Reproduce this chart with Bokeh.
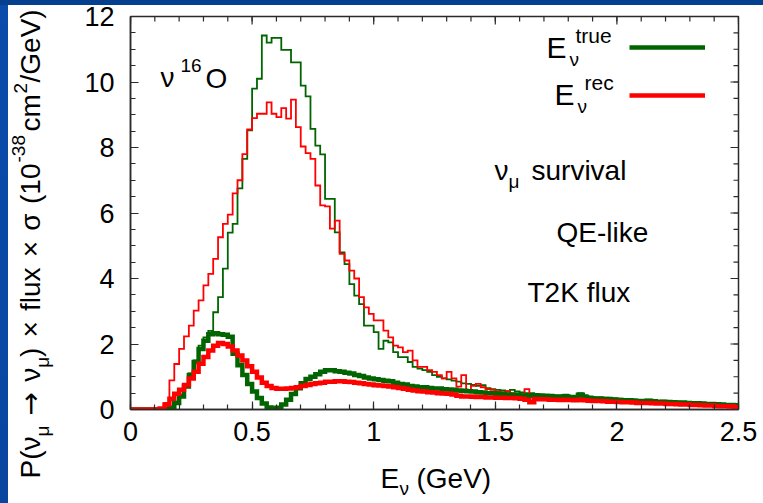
import numpy as np
from bokeh.plotting import figure
from bokeh.models import Range1d, SingleIntervalTicker, Label, Legend, LegendItem, NumeralTickFormatter
from bokeh.layouts import column, row
from bokeh.embed import file_html
from bokeh.resources import INLINE

# ---------------- data (histograms, 0.02 GeV bins from 0 to 2.5 GeV) ----------------
bin_width = 0.02
e_lo, e_hi = 0.0, 2.5

# E_true, no oscillation (thin green)
true_total = [
    0, 0, 0, 0, 0, 0, 0, 0.01, 0.05, 0.2,
    0.45, 0.75, 1.1, 1.5, 1.95, 2.2, 2.4, 2.97, 3.43, 4.3,
    5.4, 5.67, 6.75, 7.65, 8.52, 9.8, 10.1, 11.42, 11.2, 11.35,
    11.35, 10.98, 10.98, 10.6, 10.6, 9.89, 9.56, 8.57, 8.06, 7.79,
    6.43, 6.43, 5.41, 4.8, 4.44, 3.83, 3.48, 3.22, 2.56, 2.56,
    2.36, 1.85, 2.1, 2.05, 1.75, 1.6, 1.6, 1.45, 1.3, 1.25,
    1.2, 1.15, 1.05, 1.0, 0.95, 0.92, 0.88, 0.85, 0.8, 0.78,
    0.75, 0.72, 0.74, 0.65, 0.62, 0.6, 0.58, 0.56, 0.6, 0.55,
    0.52, 0.5, 0.5, 0.48, 0.47, 0.46, 0.45, 0.44, 0.44, 0.45,
    0.42, 0.42, 0.5, 0.44, 0.4, 0.38, 0.38, 0.36, 0.36, 0.35,
    0.33, 0.32, 0.3, 0.31, 0.29, 0.28, 0.3, 0.27, 0.26, 0.27,
    0.25, 0.24, 0.24, 0.22, 0.23, 0.21, 0.2, 0.2, 0.19, 0.18,
    0.18, 0.17, 0.15, 0.15, 0.14,
]

# E_rec, no oscillation (thin red)
rec_total = [
    0, 0, 0, 0, 0, 0, 0.03, 0.2, 0.89, 1.39,
    1.85, 2.23, 2.56, 3.02, 3.33, 3.79, 4.14, 4.6, 5.26, 5.67,
    5.95, 6.6, 7.0, 7.8, 8.55, 8.9, 9.03, 9.03, 9.38, 9.03,
    8.93, 9.2, 8.88, 9.46, 8.62, 8.03, 7.83, 7.65, 6.84, 6.23,
    6.2, 5.52, 5.77, 4.75, 4.55, 4.24, 4.0, 3.43, 3.12, 2.92,
    2.72, 2.72, 2.41, 2.2, 1.95, 1.9, 1.75, 1.8, 1.5, 1.3,
    1.3, 1.2, 1.15, 1.05, 0.95, 1.15, 0.95, 0.7, 1.05, 0.6,
    0.72, 0.78, 0.68, 0.62, 0.6, 0.55, 0.52, 0.55, 0.5, 0.48,
    0.45, 0.62, 0.42, 0.42, 0.4, 0.4, 0.39, 0.38, 0.4, 0.37,
    0.36, 0.37, 0.35, 0.36, 0.34, 0.33, 0.32, 0.31, 0.32, 0.3,
    0.29, 0.28, 0.27, 0.28, 0.26, 0.25, 0.26, 0.24, 0.23, 0.24,
    0.22, 0.21, 0.22, 0.2, 0.2, 0.19, 0.18, 0.18, 0.17, 0.16,
    0.15, 0.15, 0.14, 0.12, 0.11,
]

# E_true, nu_mu survival (thick green)
true_surv = [
    0, 0, 0, 0, 0, 0, 0, 0.01, 0.05, 0.2,
    0.4, 0.7, 1.05, 1.45, 1.85, 2.1, 2.3, 2.33, 2.3, 2.28,
    2.22, 1.7, 1.35, 1.05, 0.78, 0.55, 0.35, 0.18, 0.06, 0.02,
    0.05, 0.15, 0.3, 0.47, 0.65, 0.8, 0.93, 1.0, 1.08, 1.15,
    1.2, 1.2, 1.17, 1.15, 1.12, 1.1, 1.05, 1.02, 0.98, 0.95,
    0.92, 0.9, 0.88, 0.86, 0.82, 0.78, 0.76, 0.72, 0.7, 0.68,
    0.68, 0.66, 0.64, 0.64, 0.62, 0.61, 0.6, 0.58, 0.57, 0.56,
    0.55, 0.53, 0.52, 0.5, 0.5, 0.48, 0.47, 0.46, 0.45, 0.45,
    0.43, 0.42, 0.42, 0.41, 0.4, 0.4, 0.39, 0.38, 0.38, 0.4,
    0.37, 0.36, 0.45, 0.36, 0.34, 0.33, 0.33, 0.32, 0.3, 0.3,
    0.29, 0.28, 0.28, 0.27, 0.26, 0.25, 0.27, 0.25, 0.24, 0.24,
    0.23, 0.22, 0.21, 0.21, 0.2, 0.19, 0.19, 0.18, 0.17, 0.17,
    0.16, 0.15, 0.14, 0.14, 0.13,
]

# E_rec, nu_mu survival (thick red)
rec_surv = [
    0, 0, 0, 0, 0, 0, 0.03, 0.15, 0.33, 0.48,
    0.6, 0.75, 0.95, 1.15, 1.4, 1.6, 1.8, 1.95, 2.03, 2.0,
    1.92, 1.8, 1.65, 1.5, 1.32, 1.15, 0.98, 0.82, 0.72, 0.66,
    0.63, 0.63, 0.64, 0.66, 0.68, 0.72, 0.75, 0.78, 0.8, 0.82,
    0.85, 0.85, 0.86, 0.86, 0.85, 0.84, 0.82, 0.8, 0.78, 0.76,
    0.74, 0.73, 0.72, 0.7, 0.68, 0.66, 0.63, 0.6, 0.58, 0.56,
    0.55, 0.53, 0.52, 0.5, 0.49, 0.48, 0.46, 0.42, 0.4, 0.4,
    0.39, 0.38, 0.38, 0.37, 0.37, 0.36, 0.36, 0.35, 0.35, 0.34,
    0.33, 0.3, 0.22, 0.32, 0.31, 0.31, 0.3, 0.3, 0.29, 0.3,
    0.29, 0.28, 0.3, 0.28, 0.27, 0.26, 0.26, 0.25, 0.24, 0.24,
    0.23, 0.22, 0.22, 0.21, 0.2, 0.2, 0.2, 0.19, 0.18, 0.18,
    0.17, 0.17, 0.16, 0.15, 0.15, 0.14, 0.14, 0.13, 0.12, 0.12,
    0.11, 0.1, 0.1, 0.09, 0.08,
]

x_ticks = [0, 0.5, 1, 1.5, 2, 2.5]
x_tick_labels = ["0", "0.5", "1", "1.5", "2", "2.5"]
x_minor_step = 0.1
y_ticks = [0, 2, 4, 6, 8, 10, 12]
y_tick_labels = ["0", "2", "4", "6", "8", "10", "12"]
y_minor_step = 0.5

# ---------------- layout constants (page pixels) ----------------
PAGE_W, PAGE_H = 763, 503
STRIP_R = 80                         # right edge of the y-label strip
MAIN_B = 459                         # bottom edge of main figure
FRAME_L, FRAME_T, FRAME_R, FRAME_B = 130, 16, 738, 409
FONT = "Liberation Sans"
ARROW_FONT = "DejaVu Sans"
GREEN = "#006400"
RED = "#ff0000"
AXC = "#2a2a2a"
BASE_FIX = 0.35                      # baseline correction (fraction of font size)
PAGE_BG = ("linear-gradient(#05408f, #05408f) 0 0 / 100% 5px no-repeat, "
           "linear-gradient(#0a4bab, #0846a0) 0 0 / 8px 100% no-repeat, #ffffff")

n_bins = int(round((e_hi - e_lo) / bin_width))
edges = np.linspace(e_lo, e_hi, n_bins + 1)


def step_y(vals):
    v = np.asarray(vals, dtype=float)
    return np.append(v, v[-1])


def blank_fig(w, h, left=0, right=0):
    f = figure(width=w, height=h, x_range=Range1d(0, 1), y_range=Range1d(0, 1),
               output_backend="svg", toolbar_location=None,
               x_axis_location=None, y_axis_location=None, min_border=0,
               min_border_left=left, min_border_right=right, min_border_top=0, min_border_bottom=0)
    f.outline_line_color = None
    f.grid.visible = False
    f.background_fill_alpha = 0
    f.border_fill_alpha = 0
    return f


ADV = {" ": 0.278, "(": 0.333, ")": 0.333, "P": 0.667, "ν": 0.5, "μ": 0.576, "→": 0.838,
       "×": 0.584, "f": 0.278, "l": 0.222, "u": 0.556, "x": 0.5, "σ": 0.6, "-": 0.333,
       "c": 0.5, "m": 0.833, "/": 0.278, "G": 0.778, "e": 0.556, "V": 0.667}


def text_w(s, size):
    return sum(ADV.get(ch, 0.556) for ch in s) * size


def make_text_adder(fig, org_x, org_bottom):
    def add(txt, px, py, size, angle=0.0, font=FONT):
        if angle == 0.0:
            sx, sy = px - org_x, org_bottom - (py - BASE_FIX * size)
        else:
            sx, sy = (px - BASE_FIX * size) - org_x, org_bottom - py
        fig.add_layout(Label(x=sx, y=sy, x_units="screen", y_units="screen",
                             text=txt, text_font=font, text_font_size=f"{size}px",
                             text_color="black", text_align="left",
                             text_baseline="alphabetic", angle=angle))
    return add


# ---------------- main figure ----------------
p = figure(width=PAGE_W - STRIP_R, height=MAIN_B,
           x_range=Range1d(e_lo, e_hi), y_range=Range1d(y_ticks[0], y_ticks[-1]),
           output_backend="svg", toolbar_location=None,
           min_border_left=FRAME_L - STRIP_R,
           min_border_right=PAGE_W - FRAME_R,
           min_border_top=FRAME_T,
           min_border_bottom=MAIN_B - FRAME_B)
p.background_fill_color = "white"
p.border_fill_alpha = 0
p.outline_line_color = AXC
p.outline_line_width = 1.5
p.xgrid.visible = False
p.ygrid.visible = False

# histograms
p.step(edges, step_y(true_total), mode="after", line_color=GREEN, line_width=1.8, line_join="miter")
p.step(edges, step_y(rec_total), mode="after", line_color=RED, line_width=1.8, line_join="miter")
r_true = p.step(edges, step_y(true_surv), mode="after", line_color=GREEN, line_width=4.5, line_join="miter")
r_rec = p.step(edges, step_y(rec_surv), mode="after", line_color=RED, line_width=4.5, line_join="miter")

# axes (bottom / left)
xticker = SingleIntervalTicker(interval=x_ticks[1] - x_ticks[0], num_minor_ticks=5)
yticker = SingleIntervalTicker(interval=y_ticks[1] - y_ticks[0], num_minor_ticks=4)
for ax, tk in ((p.xaxis[0], xticker), (p.yaxis[0], yticker)):
    ax.ticker = tk
    ax.axis_line_color = AXC
    ax.axis_line_width = 1.5
    ax.major_tick_line_color = AXC
    ax.minor_tick_line_color = AXC
    ax.major_tick_line_width = 1.2
    ax.minor_tick_line_width = 1.2
    ax.major_tick_in = 8
    ax.major_tick_out = 0
    ax.minor_tick_in = 5
    ax.minor_tick_out = 0
    ax.major_label_text_font = FONT
    ax.major_label_text_font_size = "27px"
    ax.major_label_text_color = "black"
p.xaxis[0].formatter = NumeralTickFormatter(format="0.[0]")
p.xaxis[0].major_label_overrides = {float(v): s for v, s in zip(x_ticks, x_tick_labels)}
p.xaxis[0].major_label_standoff = 12
p.yaxis[0].major_label_overrides = {float(v): s for v, s in zip(y_ticks, y_tick_labels)}
p.yaxis[0].major_label_standoff = 16

# mirrored inward ticks on top / right edges
x_minor = np.round(np.arange(x_ticks[0], x_ticks[-1] + 1e-9, x_minor_step), 6)
y_minor = np.round(np.arange(y_ticks[0], y_ticks[-1] + 1e-9, y_minor_step), 6)
top_y = y_ticks[-1]
right_x = e_hi
p.ray(x=x_minor, y=[top_y] * len(x_minor), length=5, length_units="screen",
      angle=-np.pi / 2, line_color=AXC, line_width=1.2)
p.ray(x=x_ticks, y=[top_y] * len(x_ticks), length=8, length_units="screen",
      angle=-np.pi / 2, line_color=AXC, line_width=1.2)
p.ray(x=[right_x] * len(y_minor), y=y_minor, length=5, length_units="screen",
      angle=np.pi, line_color=AXC, line_width=1.2)
p.ray(x=[right_x] * len(y_ticks), y=y_ticks, length=8, length_units="screen",
      angle=np.pi, line_color=AXC, line_width=1.2)

add_main = make_text_adder(p, FRAME_L, FRAME_B)

# ν 16O
add_main("ν", 160, 87, 28)
add_main("16", 180, 72, 19)
add_main("O", 205, 88, 28)

# ν_μ survival, QE-like, T2K flux
add_main("ν", 494, 180, 28)
add_main("μ", 508, 188, 19)
add_main("survival", 531, 180, 28)
add_main("QE-like", 556, 242, 28)
add_main("T2K flux", 527, 302, 28)

# legend texts
add_main("E", 546, 57, 30)
add_main("ν", 569, 66, 19)
add_main("true", 575, 42, 21)
add_main("E", 554, 104, 30)
add_main("ν", 577, 113, 19)
add_main("rec", 584, 89, 21)

legend = Legend(items=[LegendItem(label=" ", renderers=[r_true]),
                       LegendItem(label=" ", renderers=[r_rec])],
                location=(629 - FRAME_L, FRAME_B - 107),
                glyph_width=76, glyph_height=24, label_height=24, label_width=0,
                label_standoff=0, spacing=24, padding=0, margin=0,
                border_line_color=None, background_fill_alpha=0,
                label_text_font_size="1px")
p.add_layout(legend)

# ---------------- y-label strip (left) ----------------
ystrip = blank_fig(STRIP_R, PAGE_H)
add_y = make_text_adder(ystrip, 0, PAGE_H)
ROT = np.pi / 2

# lower part: P(ν_μ → ν_μ) × flux × σ (10   -- spread between page y 478 and 163
ylab_lower = [("P(ν", 28, 0), ("μ", 19, 9), ("→", 28, 0), ("ν", 28, 0), ("μ", 19, 9),
              (")", 28, 0), ("×", 28, 0), ("flux", 28, 0), ("×", 28, 0), ("σ", 28, 0),
              ("(10", 28, 0)]
space_before = [0, 0, 1, 1, 0, 0, 1, 1, 1, 1, 1]
y_start, y_lower_end = 478, 163
used = sum(text_w(t, s) for t, s, _ in ylab_lower)
gap = (y_start - y_lower_end - used) / sum(space_before)
ypos = y_start
for (t, s, sh), nb in zip(ylab_lower, space_before):
    ypos -= nb * gap
    add_y(t, 40 + sh, ypos, s, angle=ROT, font=ARROW_FONT if t == "→" else FONT)
    ypos -= text_w(t, s)

# upper part: ^-38 cm^2/GeV)
ylab_upper = [("-38", 19, -15, 162), ("cm", 28, 0, 131), ("2", 19, -13, 93), ("/GeV)", 28, 0, 82)]
for t, s, sh, y0 in ylab_upper:
    add_y(t, 40 + sh, y0, s, angle=ROT)

# ---------------- x-label strip (bottom) ----------------
xstrip = blank_fig(PAGE_W - STRIP_R, PAGE_H - MAIN_B,
                   left=FRAME_L - STRIP_R, right=PAGE_W - FRAME_R)
add_x = make_text_adder(xstrip, FRAME_L, PAGE_H)
add_x("E", 380, 488, 28)
add_x("ν", 399, 495, 19)
add_x("(GeV)", 416, 488, 28)

layout = row(ystrip, column(p, xstrip), styles={"background": PAGE_BG})

open("out.html", "w").write(file_html(layout, INLINE))
